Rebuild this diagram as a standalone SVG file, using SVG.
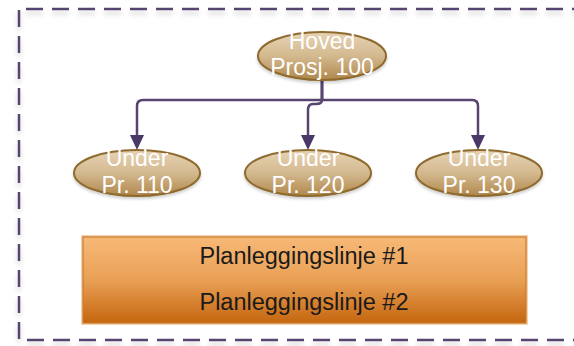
<svg xmlns="http://www.w3.org/2000/svg" width="574" height="346" viewBox="0 0 574 346">
<defs>
<linearGradient id="gEll" x1="0" y1="0" x2="0" y2="1">
<stop offset="0" stop-color="#e6d3b4"/>
<stop offset="0.5" stop-color="#d4b98f"/>
<stop offset="1" stop-color="#b0874c"/>
</linearGradient>
<linearGradient id="gRect" x1="0" y1="0" x2="0" y2="1">
<stop offset="0" stop-color="#f7b977"/>
<stop offset="0.5" stop-color="#e9a055"/>
<stop offset="1" stop-color="#c5660f"/>
</linearGradient>
<filter id="sh" x="-10%" y="-20%" width="120%" height="150%">
<feDropShadow dx="0" dy="4" stdDeviation="2.5" flood-color="#000" flood-opacity="0.18"/>
</filter>
<filter id="sh2" x="-10%" y="-20%" width="120%" height="150%">
<feDropShadow dx="0" dy="2" stdDeviation="1.5" flood-color="#000" flood-opacity="0.2"/>
</filter>
</defs>
<style>
.border{fill:none;stroke:#574570;stroke-width:2.5;stroke-dasharray:17 9;}
.ell{fill:url(#gEll);stroke:#8e6a2e;stroke-width:2;}
.et{font-family:"Liberation Sans",Arial,sans-serif;font-size:23px;fill:#ffffff;text-anchor:middle;}
.conn{fill:none;stroke:#574570;stroke-width:2.5;stroke-linejoin:round;}
.head{fill:#4a3868;}
.rt{font-family:"Liberation Sans",Arial,sans-serif;font-size:23.5px;fill:#1a1a1a;text-anchor:middle;}
</style>
<g id="frame" filter="url(#sh)">
<path class="border" d="M26,9 L580,9"/>
<path class="border" d="M19,10 L19,340 L580,340"/>
</g>
<g id="connectors">
<path class="conn" d="M322,80 L322,100 L143,100 Q137,100 137,106 L137,136"/>
<path class="conn" d="M322,80 L322,100 L472,100 Q478,100 478,106 L478,136"/>
<path class="conn" d="M322,80 L322,100 Q322,104 316,104 L313,104 Q308,104 308,110 L308,136"/>
<path class="head" d="M130,135 L144,135 L137,150 Z"/>
<path class="head" d="M301,135 L315,135 L308,150 Z"/>
<path class="head" d="M471,135 L485,135 L478,150 Z"/>
</g>
<g id="hoved">
<ellipse class="ell" cx="322" cy="56" rx="64" ry="24" filter="url(#sh2)"/>
<text class="et" x="322" y="49">Hoved</text>
<text class="et" x="322" y="75">Prosj. 100</text>
</g>
<g id="under110">
<ellipse class="ell" cx="137" cy="173" rx="63" ry="23" filter="url(#sh2)"/>
<text class="et" x="137" y="166">Under</text>
<text class="et" x="137" y="193">Pr. 110</text>
</g>
<g id="under120">
<ellipse class="ell" cx="308" cy="173" rx="63" ry="23" filter="url(#sh2)"/>
<text class="et" x="308" y="166">Under</text>
<text class="et" x="308" y="193">Pr. 120</text>
</g>
<g id="under130">
<ellipse class="ell" cx="479" cy="173" rx="63" ry="23" filter="url(#sh2)"/>
<text class="et" x="479" y="166">Under</text>
<text class="et" x="479" y="193">Pr. 130</text>
</g>
<g id="planlegging">
<rect x="82" y="236" width="445" height="88" fill="none" stroke="#f3d2ad" stroke-width="2"/>
<rect x="83" y="237" width="443" height="86" fill="url(#gRect)" stroke="#c97a2c" stroke-width="1.2"/>
<text class="rt" x="304" y="264">Planleggingslinje #1</text>
<text class="rt" x="304" y="310">Planleggingslinje #2</text>
</g>
</svg>
